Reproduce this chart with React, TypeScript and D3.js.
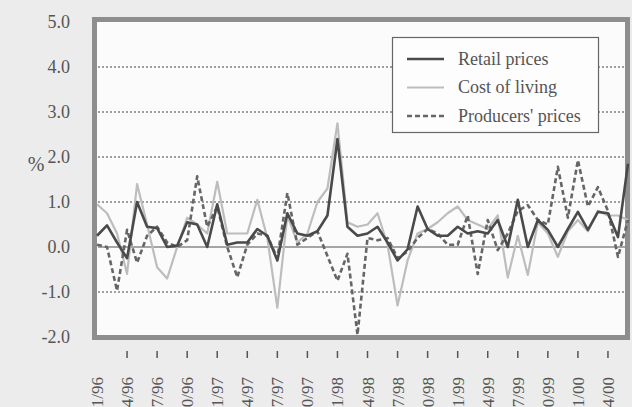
// Monthly price changes chart — D3 line chart, scanned-print look
import React, { useEffect, useRef } from 'react';
import * as d3 from 'd3';

// Months from 1/96 to 6/00
const months: string[] = [];
for (let y = 96; y <= 100; y++) {
  for (let m = 1; m <= 12; m++) {
    if (months.length < 54) months.push(`${m}/${String(y % 100).padStart(2, '0')}`);
  }
}

const retail = [
  0.25, 0.48, 0.1, -0.25, 1.0, 0.45, 0.42, 0.0, 0.03, 0.55, 0.5, 0.0,
  0.95, 0.05, 0.1, 0.1, 0.4, 0.25, -0.3, 0.75, 0.3, 0.25, 0.35, 0.7,
  2.4, 0.45, 0.25, 0.3, 0.45, 0.1, -0.3, -0.05, 0.9, 0.4, 0.25, 0.25,
  0.45, 0.3, 0.35, 0.3, 0.6, 0.0, 1.05, 0.0, 0.6, 0.38, 0.0, 0.4,
  0.78, 0.38, 0.78, 0.75, 0.22, 1.85,
];

const costOfLiving = [
  0.95, 0.75, 0.3, -0.6, 1.4, 0.5, -0.45, -0.7, 0.0, 0.65, 0.5, 0.3,
  1.45, 0.3, 0.3, 0.3, 1.05, 0.2, -1.35, 0.7, 0.1, 0.3, 1.0, 1.3,
  2.75, 0.55, 0.45, 0.5, 0.75, 0.05, -1.3, -0.3, 0.3, 0.4, 0.55, 0.75,
  0.9, 0.6, 0.5, 0.4, 0.7, -0.68, 0.25, -0.62, 0.55, 0.3, -0.22, 0.35,
  0.6, 0.35, 0.8, 0.7, 0.7, 0.6,
];

const producers = [
  0.05, 0.0, -0.97, 0.38, -0.35, 0.25, 0.45, 0.1, 0.0, 0.15, 1.57, 0.45,
  0.9, 0.0, -0.67, 0.05, 0.3, 0.25, -0.25, 1.2, 0.05, 0.2, 0.35, -0.2,
  -0.75, -0.15, -1.95, 0.2, 0.15, 0.2, -0.25, -0.1, 0.2, 0.4, 0.3, 0.05,
  0.05, 0.7, -0.6, 0.6, -0.07, 0.3, 0.8, 0.93, 0.6, 0.5, 1.78, 0.65,
  1.93, 0.9, 1.33, 0.8, -0.22, 0.6,
];

const yTicks = [5, 4, 3, 2, 1, 0, -1, -2];
const gridValues = [4, 3, 2, 1, -1];
const labelIdx = d3.range(0, 54, 3);

const seriesDefs = [
  { name: 'Retail prices', values: retail, color: '#4a4a4a', width: 2.6, dash: null as string | null },
  { name: 'Cost of living', values: costOfLiving, color: '#bdbdbd', width: 2.2, dash: null as string | null },
  { name: "Producers' prices", values: producers, color: '#666', width: 2.6, dash: '5,3' },
];

const W = 632;
const H = 407;
const FONT = '"Liberation Serif", "Times New Roman", serif';

const App: React.FC = () => {
  const svgRef = useRef<SVGSVGElement>(null);

  useEffect(() => {
    if (!svgRef.current) return;
    const svg = d3.select(svgRef.current);
    svg.selectAll('*').remove();

    const x = d3.scaleLinear().domain([0, months.length - 1]).range([97, 628]);
    const y = d3.scaleLinear().domain([-2, 5]).range([337, 22]);

    // фон страницы
    svg.append('rect').attr('width', W).attr('height', H).attr('fill', '#ececec');

    // рамка графика
    svg.append('rect')
      .attr('x', 94.5).attr('y', 19.5)
      .attr('width', 533).attr('height', 318)
      .attr('fill', '#fbfbfb')
      .attr('stroke', '#8e8e8e')
      .attr('stroke-width', 5);

    // сетка
    svg.append('g')
      .selectAll('line')
      .data(gridValues)
      .enter()
      .append('line')
      .attr('x1', 98).attr('x2', 625)
      .attr('y1', (d) => y(d)).attr('y2', (d) => y(d))
      .attr('stroke', '#444')
      .attr('stroke-width', 1.2)
      .attr('stroke-dasharray', '2,2');

    svg.append('line')
      .attr('x1', 98).attr('x2', 625)
      .attr('y1', y(0)).attr('y2', y(0))
      .attr('stroke', '#888')
      .attr('stroke-width', 1.5);

    // ось Y
    svg.append('g')
      .selectAll('text')
      .data(yTicks)
      .enter()
      .append('text')
      .attr('x', 70)
      .attr('y', (d) => y(d))
      .attr('dy', '0.35em')
      .attr('text-anchor', 'end')
      .attr('font-family', FONT)
      .attr('font-size', 18)
      .attr('fill', '#555')
      .text((d) => d.toFixed(1));

    svg.append('text')
      .attr('x', 36).attr('y', 171)
      .attr('text-anchor', 'middle')
      .attr('font-family', FONT)
      .attr('font-size', 20)
      .attr('fill', '#555')
      .text('%');

    // ось X — засечки и подписи
    svg.append('g')
      .selectAll('line')
      .data(labelIdx.filter((i) => i > 0))
      .enter()
      .append('line')
      .attr('x1', (d) => x(d)).attr('x2', (d) => x(d))
      .attr('y1', 351).attr('y2', 358)
      .attr('stroke', '#555')
      .attr('stroke-width', 1.5);

    svg.append('g')
      .selectAll('text')
      .data(labelIdx)
      .enter()
      .append('text')
      .attr('transform', (d) => `translate(${x(d) + 6},377) rotate(-90)`)
      .attr('text-anchor', 'end')
      .attr('font-family', FONT)
      .attr('font-size', 17)
      .attr('fill', '#555')
      .text((d) => months[d]);

    // линии
    const line = d3.line<number>()
      .x((_, i) => x(i))
      .y((d) => y(d));

    const order = [1, 2, 0];
    order.forEach((k) => {
      const s = seriesDefs[k];
      const p = svg.append('path')
        .datum(s.values)
        .attr('fill', 'none')
        .attr('stroke', s.color)
        .attr('stroke-width', s.width)
        .attr('stroke-linejoin', 'round')
        .attr('d', line);
      if (s.dash) p.attr('stroke-dasharray', s.dash);
    });

    // легенда
    const lg = svg.append('g');
    lg.append('rect')
      .attr('x', 392.5).attr('y', 37.5)
      .attr('width', 206).attr('height', 95)
      .attr('fill', '#fdfdfd')
      .attr('stroke', '#666')
      .attr('stroke-width', 1.2);

    seriesDefs.forEach((s, i) => {
      const ry = 59 + i * 28.5;
      const l = lg.append('line')
        .attr('x1', 407).attr('x2', 444)
        .attr('y1', ry).attr('y2', ry)
        .attr('stroke', s.color)
        .attr('stroke-width', s.width);
      if (s.dash) l.attr('stroke-dasharray', s.dash);
      lg.append('text')
        .attr('x', 458).attr('y', ry)
        .attr('dy', '0.32em')
        .attr('font-family', FONT)
        .attr('font-size', 18)
        .attr('fill', '#555')
        .text(s.name);
    });
  }, []);

  return (
    <div style={{ position: 'absolute', left: 0, top: 0 }}>
      <svg ref={svgRef} width={W} height={H} style={{ display: 'block' }} />
    </div>
  );
};

export default App;
